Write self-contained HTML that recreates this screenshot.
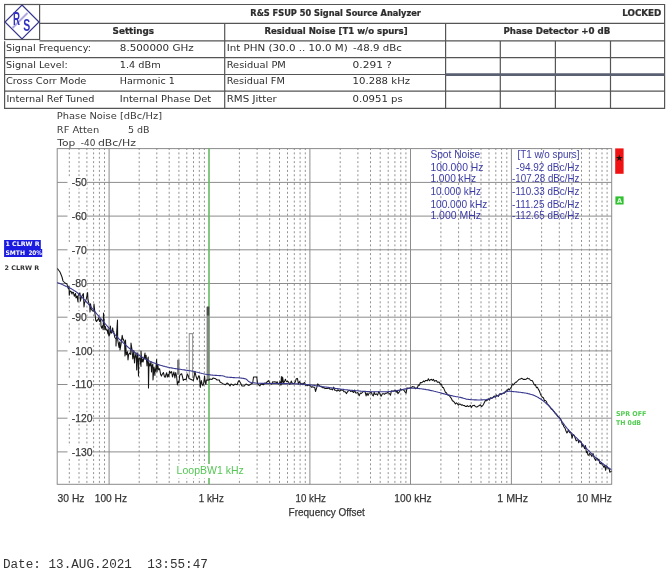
<!DOCTYPE html><html><head><meta charset="utf-8"><title>R&amp;S FSUP 50 Signal Source Analyzer</title>
<style>html,body{margin:0;padding:0;background:#fff;}body{width:671px;height:573px;overflow:hidden;position:relative;}svg{position:absolute;left:0;top:0;display:block;filter:blur(0.35px)}.t{font-family:"DejaVu Sans",sans-serif;fill:#2e2e2e}.b{font-weight:bold;stroke:#262626;stroke-width:0.22px}.a{font-family:"Liberation Sans",Arial,sans-serif}.k{stroke:#3a3a3a;stroke-width:0.25px}.m{font-family:"Liberation Mono","Courier New",monospace}</style></head><body>
<svg width="671" height="573" viewBox="0 0 671 573">
<rect width="671" height="573" fill="#fff"/>
<g stroke="#555555" stroke-width="1.2" fill="none">
<rect x="4.6" y="4.5" width="35" height="35"/>
<path d="M39.5 4.5H664.6V108.3H4.6V41.2"/>
<path d="M39.5 23.4H664.6"/>
<path d="M39.5 40.9H664.6"/>
<path d="M4.6 57.7H664.6"/>
<path d="M4.6 74.5H664.6"/>
<path d="M4.6 91.1H664.6"/>
<path d="M224.7 23.4V108.3M445.6 23.4V108.3"/>
<path d="M500.3 41V108.3"/>
<path d="M555.4 41V108.3"/>
<path d="M610.5 41V108.3"/>
</g>
<path d="M445.6 74.55H664.6" stroke="#5a6072" stroke-width="2.7"/>
<g>
<path d="M22 5L39 22L22 39L5 22Z" fill="none" stroke="#35358e" stroke-width="1.2"/>
<path d="M27.5 13L12.5 28" stroke="#b0a8e0" stroke-width="2"/>
<text x="13.1" y="25.0" font-size="18.3" font-family="Liberation Sans,sans-serif" font-weight="bold" fill="#3434c0" textLength="7.0" lengthAdjust="spacingAndGlyphs">R</text>
<text x="23.3" y="31.4" font-size="16.6" font-family="Liberation Sans,sans-serif" font-weight="bold" fill="#3434c0" textLength="7.0" lengthAdjust="spacingAndGlyphs">S</text>
</g>
<text x="250.3" y="15.5" font-size="8.3" class="t b" textLength="170.6" lengthAdjust="spacingAndGlyphs" >R&amp;S FSUP 50 Signal Source Analyzer</text>
<text x="622.2" y="15.6" font-size="8.3" class="t b" textLength="39.2" lengthAdjust="spacingAndGlyphs" >LOCKED</text>
<text x="112.6" y="34.2" font-size="8.3" class="t b" textLength="41.5" lengthAdjust="spacingAndGlyphs" >Settings</text>
<text x="264.4" y="34.2" font-size="8.3" class="t b" textLength="143.2" lengthAdjust="spacingAndGlyphs" >Residual Noise [T1 w/o spurs]</text>
<text x="503.4" y="34.2" font-size="8.3" class="t b" textLength="106.9" lengthAdjust="spacingAndGlyphs" >Phase Detector +0 dB</text>
<text x="6.1" y="50.9" font-size="9.3" class="t" textLength="84.8" lengthAdjust="spacingAndGlyphs" >Signal Frequency:</text>
<text x="6.1" y="67.6" font-size="9.3" class="t" textLength="61.6" lengthAdjust="spacingAndGlyphs" >Signal Level:</text>
<text x="5.9" y="84.3" font-size="9.3" class="t" textLength="80.5" lengthAdjust="spacingAndGlyphs" >Cross Corr Mode</text>
<text x="6.4" y="101.6" font-size="9.3" class="t" textLength="88.1" lengthAdjust="spacingAndGlyphs" >Internal Ref Tuned</text>
<text x="119.8" y="50.9" font-size="9.3" class="t" textLength="73.9" lengthAdjust="spacingAndGlyphs" >8.500000 GHz</text>
<text x="119.8" y="67.6" font-size="9.3" class="t" textLength="40.9" lengthAdjust="spacingAndGlyphs" >1.4 dBm</text>
<text x="119.8" y="84.3" font-size="9.3" class="t" textLength="55.0" lengthAdjust="spacingAndGlyphs" >Harmonic 1</text>
<text x="119.8" y="101.6" font-size="9.3" class="t" textLength="91.4" lengthAdjust="spacingAndGlyphs" >Internal Phase Det</text>
<text x="226.7" y="50.9" font-size="9.3" class="t" textLength="121.0" lengthAdjust="spacingAndGlyphs" >Int PHN (30.0  .. 10.0 M)</text>
<text x="226.7" y="67.6" font-size="9.3" class="t" textLength="59.2" lengthAdjust="spacingAndGlyphs" >Residual PM</text>
<text x="226.7" y="84.3" font-size="9.3" class="t" textLength="58.1" lengthAdjust="spacingAndGlyphs" >Residual FM</text>
<text x="226.7" y="101.6" font-size="9.3" class="t" textLength="50.1" lengthAdjust="spacingAndGlyphs" >RMS Jitter</text>
<text x="353.0" y="50.9" font-size="9.3" class="t" textLength="48.8" lengthAdjust="spacingAndGlyphs" >-48.9 dBc</text>
<text x="352.5" y="67.6" font-size="9.3" class="t" textLength="39.4" lengthAdjust="spacingAndGlyphs" >0.291 ?</text>
<text x="352.6" y="84.3" font-size="9.3" class="t" textLength="57.5" lengthAdjust="spacingAndGlyphs" >10.288 kHz</text>
<text x="352.5" y="101.6" font-size="9.3" class="t" textLength="50.3" lengthAdjust="spacingAndGlyphs" >0.0951 ps</text>
<g stroke="#8c8c8c" stroke-width="1" fill="none">
<path d="M69.3 148.0V484.3M79.0 148.0V484.3M86.9 148.0V484.3M93.6 148.0V484.3M99.4 148.0V484.3M104.5 148.0V484.3M139.2 148.0V484.3M156.8 148.0V484.3M169.2 148.0V484.3M178.9 148.0V484.3M186.8 148.0V484.3M193.5 148.0V484.3M199.3 148.0V484.3M204.4 148.0V484.3M239.4 148.0V484.3M257.1 148.0V484.3M269.7 148.0V484.3M279.5 148.0V484.3M287.5 148.0V484.3M294.3 148.0V484.3M300.1 148.0V484.3M305.3 148.0V484.3M340.2 148.0V484.3M357.9 148.0V484.3M370.5 148.0V484.3M380.2 148.0V484.3M388.2 148.0V484.3M394.9 148.0V484.3M400.8 148.0V484.3M405.9 148.0V484.3M440.9 148.0V484.3M458.6 148.0V484.3M471.2 148.0V484.3M481.0 148.0V484.3M489.0 148.0V484.3M495.8 148.0V484.3M501.6 148.0V484.3M506.8 148.0V484.3M541.6 148.0V484.3M559.3 148.0V484.3M571.8 148.0V484.3M581.5 148.0V484.3M589.4 148.0V484.3M596.2 148.0V484.3M602.0 148.0V484.3M607.1 148.0V484.3" stroke="#929292" stroke-dasharray="2 2.38"/>
<path d="M109.1 148.6V484.3M209.0 148.6V484.3M309.9 148.6V484.3M410.5 148.6V484.3M511.4 148.6V484.3"/>
<path d="M57.2 182.4H611.7M57.2 216.1H611.7M57.2 249.8H611.7M57.2 283.5H611.7M57.2 317.2H611.7M57.2 350.9H611.7M57.2 384.5H611.7M57.2 418.2H611.7M57.2 451.9H611.7"/>
<rect x="57.2" y="148.6" width="554.5" height="335.7" stroke="#8a8a8a"/>
</g>
<path d="M209.0 148.6V484.3" stroke="#58c858" stroke-width="1.2"/>
<rect x="67.5" y="176.4" width="19.3" height="12" fill="#fff"/>
<text x="71.7" y="186.1" font-size="10.3" class="a k" style="fill:#3a3a3a" textLength="15.1" lengthAdjust="spacingAndGlyphs" >-50</text>
<rect x="67.5" y="210.1" width="19.3" height="12" fill="#fff"/>
<text x="71.7" y="219.8" font-size="10.3" class="a k" style="fill:#3a3a3a" textLength="15.1" lengthAdjust="spacingAndGlyphs" >-60</text>
<rect x="67.5" y="243.8" width="19.3" height="12" fill="#fff"/>
<text x="71.7" y="253.5" font-size="10.3" class="a k" style="fill:#3a3a3a" textLength="15.1" lengthAdjust="spacingAndGlyphs" >-70</text>
<rect x="67.5" y="277.5" width="19.3" height="12" fill="#fff"/>
<text x="71.7" y="287.2" font-size="10.3" class="a k" style="fill:#3a3a3a" textLength="15.1" lengthAdjust="spacingAndGlyphs" >-80</text>
<rect x="67.5" y="311.2" width="19.3" height="12" fill="#fff"/>
<text x="71.7" y="320.9" font-size="10.3" class="a k" style="fill:#3a3a3a" textLength="15.1" lengthAdjust="spacingAndGlyphs" >-90</text>
<rect x="67.5" y="344.9" width="24.9" height="12" fill="#fff"/>
<text x="71.7" y="354.6" font-size="10.3" class="a k" style="fill:#3a3a3a" textLength="20.7" lengthAdjust="spacingAndGlyphs" >-100</text>
<rect x="67.5" y="378.5" width="24.9" height="12" fill="#fff"/>
<text x="71.7" y="388.2" font-size="10.3" class="a k" style="fill:#3a3a3a" textLength="20.7" lengthAdjust="spacingAndGlyphs" >-110</text>
<rect x="67.5" y="412.2" width="24.9" height="12" fill="#fff"/>
<text x="71.7" y="421.9" font-size="10.3" class="a k" style="fill:#3a3a3a" textLength="20.7" lengthAdjust="spacingAndGlyphs" >-120</text>
<rect x="67.5" y="445.9" width="24.9" height="12" fill="#fff"/>
<text x="71.7" y="455.6" font-size="10.3" class="a k" style="fill:#3a3a3a" textLength="20.7" lengthAdjust="spacingAndGlyphs" >-130</text>
<rect x="206.6" y="307" width="2.8" height="74" fill="#858585"/>
<rect x="206.8" y="306.5" width="2.4" height="9" fill="#4a4a4a"/>
<rect x="177.1" y="359.7" width="2.4" height="15" fill="#7a7a7a"/>
<path d="M189.3 377.5V333.6H192.6V378" fill="none" stroke="#9a9a9a" stroke-width="1.1"/>
<polyline points="57.4,268.5 60.0,272.0 62.0,277.0 63.0,281.0 65.0,283.0 67.0,284.0 67.6,286.6 68.3,288.7 69.0,286.0 69.3,295.2 70.0,291.1 71.2,291.6 72.0,294.0 72.5,292.2 73.4,292.3 74.3,296.2 75.5,293.4 76.0,298.0 76.4,296.2 77.1,296.3 78.0,302.0 78.1,295.9 79.2,293.5 80.0,293.0 80.3,301.2 81.5,296.8 82.3,295.6 83.4,293.6 84.0,307.0 84.5,302.9 85.4,301.1 86.3,298.9 87.6,292.5 88.0,300.0 88.9,303.2 89.8,306.3 90.0,312.0 90.5,303.7 91.4,309.5 92.6,310.9 93.8,310.9 94.0,304.0 95.1,314.9 95.8,320.7 96.7,321.5 97.0,320.0 97.7,320.3 98.8,317.7 99.6,321.6 100.7,319.5 101.0,326.0 101.7,328.2 102.5,325.8 103.2,329.8 103.5,313.0 104.4,326.0 105.0,330.0 105.2,326.2 106.0,329.1 107.3,330.9 108.0,334.0 108.1,328.8 108.9,336.0 109.7,334.4 110.4,326.1 111.0,333.0 111.6,333.1 112.7,327.9 113.0,331.0 113.6,331.2 114.8,337.5 116.0,339.0 116.0,346.0 116.7,332.1 117.5,320.0 117.7,339.9 119.0,347.4 119.0,344.0 119.8,341.9 120.0,350.0 121.0,344.4 122.2,335.3 123.0,340.0 123.4,339.3 124.6,342.5 125.0,356.0 125.5,340.1 126.3,354.7 127.5,351.7 128.0,360.0 128.6,354.7 129.6,353.0 130.7,354.4 131.0,343.0 132.0,349.7 132.8,359.0 133.0,358.0 133.8,350.4 134.5,363.0 134.8,358.6 136.1,352.9 136.7,370.0 137.1,358.6 137.8,352.8 138.5,376.0 138.8,358.8 139.8,357.9 141.0,366.5 141.0,351.0 141.8,361.9 143.0,358.8 143.0,362.0 144.0,358.3 145.0,353.0 145.1,358.8 146.1,355.2 147.0,366.0 147.3,360.9 148.2,357.0 148.5,388.0 149.0,362.7 149.8,365.8 150.0,366.0 151.0,361.6 151.5,372.0 151.8,366.7 152.8,364.1 153.0,380.0 154.0,367.1 154.9,375.5 155.0,369.0 155.6,371.3 156.6,359.6 157.0,372.0 157.9,364.4 158.0,367.0 158.7,369.8 159.6,368.7 160.6,374.3 161.4,376.1 162.4,374.0 163.4,372.5 164.5,376.9 165.2,377.3 165.9,374.6 166.7,372.7 167.3,377.1 168.2,374.5 168.8,376.6 169.6,371.1 170.5,373.0 171.6,371.6 172.5,376.9 173.3,374.1 173.9,372.0 174.9,377.9 175.7,372.5 176.6,376.3 177.4,384.9 178.2,381.5 179.0,382.7 179.7,375.3 180.7,374.3 181.7,373.8 182.4,376.4 183.3,380.4 184.2,379.4 185.2,379.2 186.2,379.7 187.2,373.9 188.2,375.6 189.0,378.4 193.4,380.4 194.1,376.7 194.9,371.3 195.8,375.4 196.5,377.8 197.2,379.8 198.2,377.3 198.9,375.7 199.6,377.2 200.3,387.5 201.3,380.5 202.1,383.9 202.9,385.7 203.6,383.6 204.6,376.0 205.2,382.4 205.9,384.3 206.4,380.0 208.8,380.0 210.0,379.0 212.0,379.4 213.0,378.0 215.7,378.8 217.0,380.0 219.3,380.0 220.0,382.0 222.9,383.6 225.3,384.8 227.0,383.0 228.8,384.2 230.0,386.0 231.0,384.0 233.6,385.4 235.0,384.0 237.2,384.8 238.0,382.0 239.0,380.6 240.0,382.0 240.8,383.6 242.0,386.0 244.3,386.0 246.0,384.0 249.0,385.4 251.0,384.0 252.7,383.0 253.5,377.0 256.8,377.0 257.5,383.6 259.8,386.0 261.0,384.0 263.4,384.8 264.0,384.1 264.8,383.1 265.8,383.4 266.7,382.2 267.7,381.5 268.4,380.6 269.6,382.5 270.4,383.3 271.6,384.2 272.7,381.8 273.7,382.0 274.6,381.8 275.7,382.0 276.4,382.5 277.3,381.9 278.1,383.8 279.0,384.1 280.1,381.8 280.9,385.2 281.4,376.5 281.7,383.9 282.0,378.5 282.4,382.1 282.6,377.0 283.6,383.1 284.5,381.6 285.4,379.3 286.1,381.0 286.9,381.8 287.8,381.2 288.9,382.6 289.6,384.2 290.5,383.6 291.2,381.1 292.4,383.5 293.2,383.5 294.2,383.4 295.3,381.9 296.3,378.7 297.4,378.4 298.5,384.0 299.5,381.6 300.2,382.8 301.1,384.4 302.0,383.2 302.9,384.8 303.6,383.4 304.6,382.5 305.5,385.3 306.3,384.7 307.2,385.8 308.4,385.0 309.3,385.2 310.3,385.7 311.5,387.3 312.4,386.7 313.7,387.3 314.7,387.3 315.5,391.5 316.8,387.4 317.7,383.9 319.0,385.5 320.0,386.1 321.0,386.7 321.9,387.1 322.8,387.8 324.0,387.5 325.0,388.6 326.3,388.5 327.3,388.4 328.5,388.1 329.3,388.5 330.2,389.3 331.5,389.0 332.6,389.9 333.7,387.1 334.8,390.3 335.7,390.2 336.9,391.2 337.9,389.7 338.8,390.5 339.9,391.2 340.9,389.5 341.9,390.3 343.0,390.3 343.9,391.8 345.2,391.7 346.5,393.6 347.5,391.8 348.5,390.7 349.7,390.3 350.6,391.5 351.6,391.1 352.5,391.5 353.7,392.5 354.7,390.0 355.6,392.9 356.7,393.0 357.9,392.6 359.2,395.7 360.3,393.1 361.3,393.5 362.4,392.3 363.3,391.5 364.3,391.5 365.2,392.2 366.1,395.9 367.0,393.1 368.1,395.4 369.1,393.1 370.3,392.8 371.2,392.2 372.3,394.8 373.3,395.9 374.2,392.1 375.1,394.6 376.3,393.9 377.6,395.1 378.8,391.5 379.9,393.7 381.1,396.3 382.4,393.7 383.7,393.8 384.5,394.3 385.6,393.2 386.5,393.3 387.7,392.5 388.6,392.9 389.6,393.8 390.5,395.2 391.4,390.9 392.2,391.0 393.2,391.2 394.3,390.7 395.3,390.3 396.2,392.2 397.1,390.5 397.9,393.7 398.8,392.4 399.6,391.7 400.4,388.8 401.4,389.9 402.7,389.6 403.9,390.3 405.2,392.1 406.1,393.1 407.0,387.8 407.9,388.5 409.2,388.1 410.4,388.0 411.4,387.4 412.4,386.6 413.4,386.8 414.4,386.9 415.4,388.7 416.4,387.9 417.4,387.7 418.4,385.0 419.4,385.2 420.4,382.5 421.4,382.7 422.4,382.3 423.4,381.0 424.4,381.8 425.4,380.6 426.4,380.4 427.4,380.8 428.4,378.7 429.4,380.7 430.4,379.8 431.4,379.3 432.4,380.4 433.4,379.3 434.4,381.3 435.4,380.7 436.4,380.6 437.4,382.2 438.4,382.0 439.4,382.2 440.4,384.5 441.4,384.1 442.4,387.4 443.4,387.5 444.4,389.9 445.4,392.3 446.4,392.8 447.4,394.6 448.4,395.2 449.4,395.8 450.4,397.1 451.4,398.5 452.4,400.7 453.4,401.2 454.4,402.3 455.4,404.0 456.4,402.9 457.4,403.7 458.4,405.1 459.4,404.0 460.4,404.2 461.4,405.2 462.4,404.8 463.4,405.6 464.4,405.5 465.4,406.4 466.4,406.5 467.4,405.6 468.4,406.6 469.4,406.2 470.4,405.4 471.4,407.4 472.4,405.8 473.4,405.5 474.4,405.3 475.4,406.6 476.4,407.1 477.4,406.8 478.4,405.9 479.4,405.5 480.4,404.8 481.4,406.4 482.4,406.0 483.4,404.5 484.4,402.5 485.4,400.4 486.4,400.8 487.4,400.1 488.4,398.8 489.4,400.1 490.4,397.7 491.4,398.5 492.4,397.8 493.4,396.9 494.4,396.0 495.4,397.3 496.4,395.0 497.4,395.9 498.4,396.4 499.4,394.0 500.4,393.7 501.4,394.2 502.4,393.5 503.4,393.3 504.4,393.3 505.4,391.2 506.4,391.0 507.4,390.3 508.4,388.9 509.4,389.8 510.4,388.3 511.4,387.0 512.4,384.0 513.4,384.9 514.4,383.7 515.4,382.3 516.4,382.2 517.4,381.0 518.4,380.0 519.4,379.2 520.4,379.1 521.4,378.3 522.4,378.7 523.4,379.5 524.4,379.2 525.4,379.4 526.4,379.1 527.4,378.0 528.4,378.8 529.4,378.8 530.4,380.2 531.4,380.4 532.4,380.7 533.4,382.9 534.4,385.0 535.4,384.6 536.4,387.7 537.4,387.2 538.4,389.4 539.4,391.0 540.4,393.9 541.4,396.0 542.4,397.2 543.4,397.7 544.4,400.5 545.4,400.5 546.4,401.5 547.4,404.4 548.4,404.9 549.4,406.3 550.4,407.4 551.4,409.2 552.4,409.2 553.4,411.2 554.4,412.0 555.4,413.7 556.4,413.9 557.4,416.0 558.4,416.9 559.4,417.6 561.0,419.7 561.6,421.8 562.3,424.0 563.1,424.5 564.0,427.0 564.9,427.9 565.9,430.7 566.9,433.0 567.5,432.1 568.4,429.9 569.1,431.6 569.8,432.6 570.6,432.1 571.3,434.4 572.1,438.0 573.0,434.5 573.9,435.0 574.5,436.1 575.2,438.0 576.2,440.9 577.1,440.0 578.1,440.0 578.7,442.8 579.7,440.6 580.6,441.4 581.3,442.1 582.0,446.7 582.8,444.8 583.7,446.2 584.6,448.6 585.5,445.6 586.4,452.7 587.2,451.4 587.9,455.0 588.8,455.2 589.5,453.5 590.2,454.0 590.9,454.7 591.9,456.6 592.5,454.2 593.1,453.6 593.9,457.1 594.7,458.8 595.6,460.4 596.4,458.1 597.1,458.3 598.0,460.3 598.9,459.2 599.7,463.1 600.6,463.7 601.3,462.5 602.0,464.2 603.0,465.5 603.8,467.3 604.8,465.5 605.6,470.3 606.5,465.9 607.3,467.0 608.2,468.5 609.2,468.9 609.8,472.2 610.7,471.6 611.5,471.0" fill="none" stroke="#141414" stroke-width="1.05" stroke-linejoin="round"/>
<polyline points="57.3,282.5 58.3,282.9 59.3,283.3 60.3,283.7 61.3,284.1 62.3,284.6 63.3,285.0 64.3,285.5 65.3,285.9 66.3,286.4 67.3,286.8 68.3,287.3 69.3,287.8 70.3,288.3 71.3,288.8 72.3,289.4 73.3,290.0 74.3,290.6 75.3,291.2 76.3,291.9 77.3,292.7 78.3,293.6 79.3,294.5 80.3,295.5 81.3,296.5 82.3,297.5 83.3,298.6 84.3,299.6 85.3,300.7 86.3,301.8 87.3,302.9 88.3,304.0 89.3,305.1 90.3,306.2 91.3,307.4 92.3,308.5 93.3,309.7 94.3,310.9 95.3,312.1 96.3,313.3 97.3,314.5 98.3,315.7 99.3,316.9 100.3,318.0 101.3,319.2 102.3,320.4 103.3,321.6 104.3,322.7 105.3,323.9 106.3,325.0 107.3,326.2 108.3,327.3 109.3,328.4 110.3,329.5 111.3,330.6 112.3,331.7 113.3,332.8 114.3,333.9 115.3,335.0 116.3,336.1 117.3,337.1 118.3,338.1 119.3,339.1 120.3,340.0 121.3,341.0 122.3,341.9 123.3,342.9 124.3,343.8 125.3,344.7 126.3,345.6 127.3,346.5 128.3,347.4 129.3,348.2 130.3,349.0 131.3,349.8 132.3,350.5 133.3,351.3 134.3,352.0 135.3,352.8 136.3,353.5 137.3,354.2 138.3,354.9 139.3,355.5 140.3,356.1 141.3,356.7 142.3,357.3 143.3,357.9 144.3,358.5 145.3,359.0 146.3,359.5 147.3,360.0 148.3,360.5 149.3,361.0 150.3,361.5 151.3,361.9 152.3,362.3 153.3,362.7 154.3,363.1 155.3,363.5 156.3,363.8 157.3,364.2 158.3,364.5 159.3,364.9 160.3,365.2 161.3,365.5 162.3,365.8 163.3,366.1 164.3,366.3 165.3,366.6 166.3,366.8 167.3,367.1 168.3,367.3 169.3,367.5 170.3,367.7 171.3,367.9 172.3,368.1 173.3,368.3 174.3,368.5 175.3,368.6 176.3,368.8 177.3,368.9 178.3,369.1 179.3,369.2 180.3,369.3 181.3,369.5 182.3,369.7 183.3,369.8 184.3,369.9 185.3,370.1 186.3,370.3 187.3,370.4 188.3,370.5 189.3,370.7 190.3,370.8 191.3,371.0 192.3,371.1 193.3,371.3 194.3,371.5 195.3,371.7 196.3,372.0 197.3,372.2 198.3,372.5 199.3,372.7 200.3,373.0 201.3,373.2 202.3,373.5 203.3,373.7 204.3,374.0 205.3,374.2 206.3,374.3 207.3,374.5 208.3,374.6 209.3,374.8 210.3,374.9 211.3,375.0 212.3,375.1 213.3,375.2 214.3,375.3 215.3,375.4 216.3,375.4 217.3,375.5 218.3,375.5 219.3,375.6 220.3,375.6 221.3,375.7 222.3,375.8 223.3,376.0 224.3,376.3 225.3,376.7 226.3,377.0 227.3,377.1 228.3,377.2 229.3,377.3 230.3,377.4 231.3,377.4 232.3,377.5 233.3,377.6 234.3,377.6 235.3,377.7 236.3,377.7 237.3,377.8 238.3,377.8 239.3,377.9 240.3,378.0 241.3,378.1 242.3,378.3 243.3,378.4 244.3,378.6 245.3,378.8 246.3,379.2 247.3,380.2 248.3,381.2 249.3,381.9 250.3,382.2 251.3,382.5 252.3,382.7 253.3,382.8 254.3,382.9 255.3,383.0 256.3,383.1 257.3,383.2 258.3,383.3 259.3,383.3 260.3,383.3 261.3,383.4 262.3,383.4 263.3,383.4 264.3,383.4 265.3,383.4 266.3,383.5 267.3,383.5 268.3,383.5 269.3,383.5 270.3,383.5 271.3,383.5 272.3,383.5 273.3,383.5 274.3,383.5 275.3,383.5 276.3,383.5 277.3,383.5 278.3,383.5 279.3,383.5 280.3,383.5 281.3,383.5 282.3,383.6 283.3,383.6 284.3,383.6 285.3,383.6 286.3,383.6 287.3,383.6 288.3,383.7 289.3,383.7 290.3,383.7 291.3,383.7 292.3,383.7 293.3,383.8 294.3,383.8 295.3,383.8 296.3,383.8 297.3,383.9 298.3,383.9 299.3,384.0 300.3,384.0 301.3,384.1 302.3,384.1 303.3,384.2 304.3,384.3 305.3,384.4 306.3,384.5 307.3,384.6 308.3,384.7 309.3,384.8 310.3,384.9 311.3,385.0 312.3,385.2 313.3,385.3 314.3,385.4 315.3,385.6 316.3,385.7 317.3,385.9 318.3,386.0 319.3,386.2 320.3,386.3 321.3,386.4 322.3,386.6 323.3,386.7 324.3,386.9 325.3,387.0 326.3,387.1 327.3,387.3 328.3,387.4 329.3,387.5 330.3,387.7 331.3,387.8 332.3,388.0 333.3,388.1 334.3,388.2 335.3,388.4 336.3,388.5 337.3,388.6 338.3,388.8 339.3,388.9 340.3,389.0 341.3,389.2 342.3,389.3 343.3,389.4 344.3,389.6 345.3,389.7 346.3,389.8 347.3,389.9 348.3,390.0 349.3,390.2 350.3,390.2 351.3,390.3 352.3,390.4 353.3,390.5 354.3,390.6 355.3,390.7 356.3,390.8 357.3,390.8 358.3,390.9 359.3,391.0 360.3,391.1 361.3,391.2 362.3,391.2 363.3,391.3 364.3,391.4 365.3,391.4 366.3,391.5 367.3,391.5 368.3,391.6 369.3,391.6 370.3,391.7 371.3,391.7 372.3,391.7 373.3,391.7 374.3,391.8 375.3,391.8 376.3,391.8 377.3,391.8 378.3,391.8 379.3,391.8 380.3,391.8 381.3,391.8 382.3,391.8 383.3,391.8 384.3,391.8 385.3,391.7 386.3,391.7 387.3,391.7 388.3,391.6 389.3,391.5 390.3,391.5 391.3,391.4 392.3,391.3 393.3,391.2 394.3,391.1 395.3,391.0 396.3,390.8 397.3,390.6 398.3,390.4 399.3,390.2 400.3,390.0 401.3,389.7 402.3,389.5 403.3,389.3 404.3,389.1 405.3,388.9 406.3,388.7 407.3,388.6 408.3,388.4 409.3,388.3 410.3,388.2 411.3,388.2 412.3,388.1 413.3,388.1 414.3,388.2 415.3,388.2 416.3,388.3 417.3,388.4 418.3,388.5 419.3,388.6 420.3,388.7 421.3,388.8 422.3,389.0 423.3,389.1 424.3,389.2 425.3,389.4 426.3,389.6 427.3,389.7 428.3,389.9 429.3,390.1 430.3,390.4 431.3,390.6 432.3,390.8 433.3,391.0 434.3,391.3 435.3,391.5 436.3,391.8 437.3,392.0 438.3,392.3 439.3,392.5 440.3,392.8 441.3,393.1 442.3,393.4 443.3,393.6 444.3,393.9 445.3,394.1 446.3,394.4 447.3,394.6 448.3,394.9 449.3,395.1 450.3,395.4 451.3,395.6 452.3,395.8 453.3,396.1 454.3,396.3 455.3,396.5 456.3,396.7 457.3,396.8 458.3,397.0 459.3,397.2 460.3,397.4 461.3,397.6 462.3,397.9 463.3,398.2 464.3,398.5 465.3,398.8 466.3,399.1 467.3,399.3 468.3,399.4 469.3,399.5 470.3,399.6 471.3,399.7 472.3,399.8 473.3,399.8 474.3,399.9 475.3,399.9 476.3,399.9 477.3,400.0 478.3,400.0 479.3,400.0 480.3,400.0 481.3,399.9 482.3,399.9 483.3,399.8 484.3,399.8 485.3,399.7 486.3,399.6 487.3,399.4 488.3,399.2 489.3,399.0 490.3,398.6 491.3,398.3 492.3,397.9 493.3,397.5 494.3,397.1 495.3,396.6 496.3,396.2 497.3,395.8 498.3,395.4 499.3,394.9 500.3,394.5 501.3,394.0 502.3,393.5 503.3,393.1 504.3,392.6 505.3,392.2 506.3,391.8 507.3,391.4 508.3,391.2 509.3,391.1 510.3,391.3 511.3,391.4 512.3,391.5 513.3,391.6 514.3,391.7 515.3,391.8 516.3,391.9 517.3,392.0 518.3,392.1 519.3,392.2 520.3,392.3 521.3,392.5 522.3,392.6 523.3,392.7 524.3,392.9 525.3,393.0 526.3,393.2 527.3,393.4 528.3,393.7 529.3,393.9 530.3,394.2 531.3,394.5 532.3,394.8 533.3,395.1 534.3,395.5 535.3,395.9 536.3,396.4 537.3,397.0 538.3,397.5 539.3,398.2 540.3,398.8 541.3,399.5 542.3,400.2 543.3,400.9 544.3,401.7 545.3,402.6 546.3,403.5 547.3,404.4 548.3,405.4 549.3,406.4 550.3,407.4 551.3,408.4 552.3,409.5 553.3,410.6 554.3,411.9 555.3,413.1 556.3,414.4 557.3,415.6 558.3,416.8 559.3,418.0 560.3,419.3 561.3,420.6 562.3,422.0 563.3,423.4 564.3,424.7 565.3,426.1 566.3,427.4 567.3,428.6 568.3,429.7 569.3,430.8 570.3,431.9 571.3,432.9 572.3,433.9 573.3,434.8 574.3,435.8 575.3,436.8 576.3,437.7 577.3,438.7 578.3,439.7 579.3,440.7 580.3,441.8 581.3,442.8 582.3,443.9 583.3,445.0 584.3,446.1 585.3,447.1 586.3,448.2 587.3,449.3 588.3,450.3 589.3,451.4 590.3,452.4 591.3,453.4 592.3,454.4 593.3,455.4 594.3,456.4 595.3,457.3 596.3,458.3 597.3,459.2 598.3,460.1 599.3,460.9 600.3,461.7 601.3,462.5 602.3,463.3 603.3,464.0 604.3,464.8 605.3,465.5 606.3,466.2 607.3,466.9 608.3,467.6 609.3,468.2 610.3,468.9 611.3,469.7" fill="none" stroke="#38388f" stroke-width="1.1" stroke-linejoin="round"/>
<text x="56.8" y="118.9" font-size="9" class="t" style="fill:#3a3a3a" textLength="105.2" lengthAdjust="spacingAndGlyphs" >Phase Noise [dBc/Hz]</text>
<text x="56.8" y="133.2" font-size="9" class="t" style="fill:#3a3a3a" textLength="42.4" lengthAdjust="spacingAndGlyphs" >RF Atten</text>
<text x="128.0" y="133.2" font-size="9" class="t" style="fill:#3a3a3a" textLength="21.6" lengthAdjust="spacingAndGlyphs" >5 dB</text>
<text x="57.2" y="145.9" font-size="9" class="t" style="fill:#3a3a3a" textLength="18.0" lengthAdjust="spacingAndGlyphs" >Top</text>
<text x="80.8" y="145.9" font-size="9" class="t" style="fill:#3a3a3a" textLength="14.6" lengthAdjust="spacingAndGlyphs" >-40</text>
<text x="97.9" y="145.9" font-size="9" class="t" style="fill:#3a3a3a" textLength="38.0" lengthAdjust="spacingAndGlyphs" >dBc/Hz</text>
<text x="57.6" y="502.4" font-size="11.2" class="a k" style="fill:#333" textLength="26.9" lengthAdjust="spacingAndGlyphs" >30 Hz</text>
<text x="94.8" y="502.4" font-size="11.2" class="a k" style="fill:#333" textLength="32.2" lengthAdjust="spacingAndGlyphs" >100 Hz</text>
<text x="198.8" y="502.4" font-size="11.2" class="a k" style="fill:#333" textLength="25.0" lengthAdjust="spacingAndGlyphs" >1 kHz</text>
<text x="295.6" y="502.4" font-size="11.2" class="a k" style="fill:#333" textLength="30.3" lengthAdjust="spacingAndGlyphs" >10 kHz</text>
<text x="394.3" y="502.4" font-size="11.2" class="a k" style="fill:#333" textLength="37.4" lengthAdjust="spacingAndGlyphs" >100 kHz</text>
<text x="497.3" y="502.4" font-size="11.2" class="a k" style="fill:#333" textLength="30.9" lengthAdjust="spacingAndGlyphs" >1 MHz</text>
<text x="576.8" y="502.4" font-size="11.2" class="a k" style="fill:#333" textLength="35.0" lengthAdjust="spacingAndGlyphs" >10 MHz</text>
<text x="288.6" y="515.9" font-size="11.2" class="a k" style="fill:#333" textLength="76.3" lengthAdjust="spacingAndGlyphs" >Frequency Offset</text>
<rect x="176" y="464" width="67" height="14" fill="#fff"/>
<text x="176.6" y="474.3" font-size="11" class="a" style="fill:#55c655" textLength="67.2" lengthAdjust="spacingAndGlyphs" >LoopBW1 kHz</text>
<text x="430.4" y="158.0" font-size="10.6" class="a" style="fill:#3c3ca8" textLength="49.9" lengthAdjust="spacingAndGlyphs" >Spot Noise</text>
<text x="430.4" y="170.5" font-size="10.6" class="a" style="fill:#3c3ca8" textLength="53.1" lengthAdjust="spacingAndGlyphs" >100.000 Hz</text>
<text x="430.4" y="182.4" font-size="10.6" class="a" style="fill:#3c3ca8" textLength="45.7" lengthAdjust="spacingAndGlyphs" >1.000 kHz</text>
<text x="430.4" y="195.0" font-size="10.6" class="a" style="fill:#3c3ca8" textLength="50.6" lengthAdjust="spacingAndGlyphs" >10.000 kHz</text>
<text x="430.4" y="207.5" font-size="10.6" class="a" style="fill:#3c3ca8" textLength="56.9" lengthAdjust="spacingAndGlyphs" >100.000 kHz</text>
<text x="430.4" y="219.4" font-size="10.6" class="a" style="fill:#3c3ca8" textLength="50.6" lengthAdjust="spacingAndGlyphs" >1.000 MHz</text>
<text x="517.4" y="158.0" font-size="10.6" class="a" style="fill:#3c3ca8" textLength="62.0" lengthAdjust="spacingAndGlyphs" >[T1 w/o spurs]</text>
<text x="516.1" y="170.5" font-size="10.6" class="a" style="fill:#3c3ca8" textLength="63.3" lengthAdjust="spacingAndGlyphs" >-94.92 dBc/Hz</text>
<text x="512.1" y="182.4" font-size="10.6" class="a" style="fill:#3c3ca8" textLength="67.3" lengthAdjust="spacingAndGlyphs" >-107.28 dBc/Hz</text>
<text x="512.1" y="195.0" font-size="10.6" class="a" style="fill:#3c3ca8" textLength="67.3" lengthAdjust="spacingAndGlyphs" >-110.33 dBc/Hz</text>
<text x="512.1" y="207.5" font-size="10.6" class="a" style="fill:#3c3ca8" textLength="67.3" lengthAdjust="spacingAndGlyphs" >-111.25 dBc/Hz</text>
<text x="512.1" y="219.4" font-size="10.6" class="a" style="fill:#3c3ca8" textLength="67.3" lengthAdjust="spacingAndGlyphs" >-112.65 dBc/Hz</text>
<rect x="615.2" y="148.4" width="8.4" height="25.4" fill="#f01212"/>
<text x="619.4" y="160.5" font-size="9" text-anchor="middle" font-family="DejaVu Sans,sans-serif" fill="#111">★</text>
<rect x="615.4" y="196.4" width="8.2" height="8.1" fill="#30c030"/>
<text x="619.5" y="203.3" font-size="6.5" text-anchor="middle" font-family="DejaVu Sans,sans-serif" font-weight="bold" fill="#dfffdf">A</text>
<text x="616.0" y="415.6" font-size="6.6" class="t b ns" style="fill:#52cc52;stroke:none" textLength="30.4" lengthAdjust="spacingAndGlyphs" >SPR OFF</text>
<text x="616.0" y="424.6" font-size="6.6" class="t b ns" style="fill:#52cc52;stroke:none" textLength="25.1" lengthAdjust="spacingAndGlyphs" >TH 0dB</text>
<path d="M4.1 239.9H40.8V248.9H42.2V257.1H4.1Z" fill="#1a1ae0"/>
<text x="5.4" y="246.4" font-size="6.3" class="t b ns" style="fill:#fff;stroke:none" textLength="34.3" lengthAdjust="spacingAndGlyphs" >1 CLRW R</text>
<text x="5.4" y="255.3" font-size="6.3" class="t b ns" style="fill:#fff;stroke:none" textLength="19.6" lengthAdjust="spacingAndGlyphs" >SMTH</text>
<text x="28.4" y="255.3" font-size="6.3" class="t b ns" style="fill:#fff;stroke:none" textLength="13.6" lengthAdjust="spacingAndGlyphs" >20%</text>
<text x="4.6" y="269.6" font-size="6.3" class="t b ns" style="fill:#333;stroke:none" textLength="34.7" lengthAdjust="spacingAndGlyphs" >2 CLRW R</text>
<text x="2.9" y="568.0" font-size="12.5" class="m" style="fill:#333" textLength="205.0" lengthAdjust="spacingAndGlyphs" xml:space="preserve">Date: 13.AUG.2021  13:55:47</text>
</svg></body></html>
